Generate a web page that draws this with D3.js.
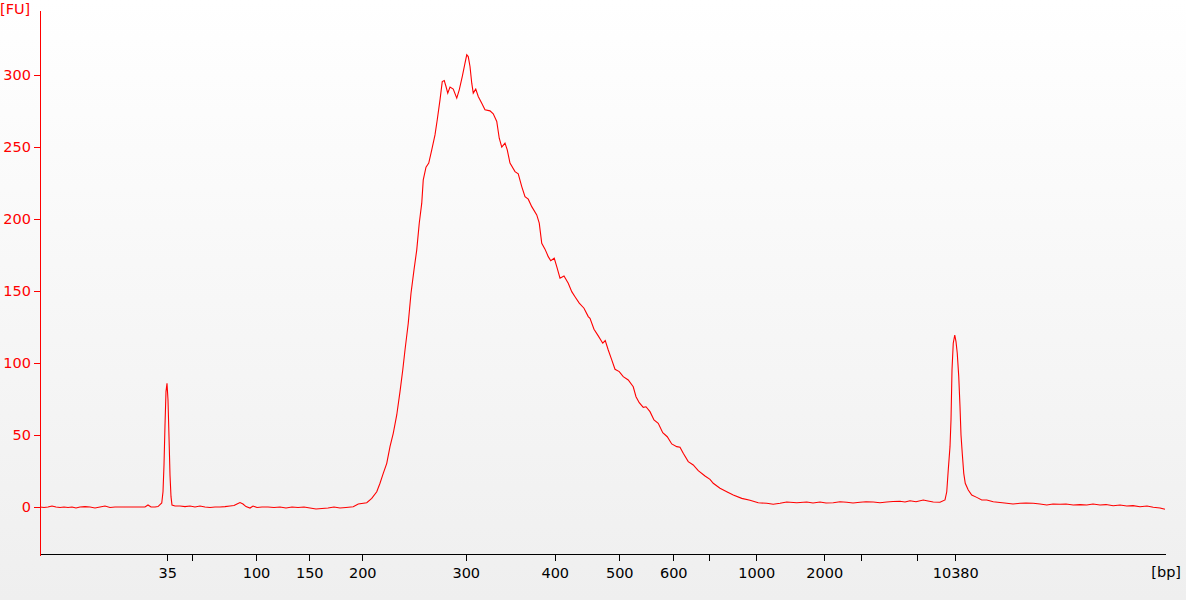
<!DOCTYPE html>
<html>
<head>
<meta charset="utf-8">
<script src="https://cdn.jsdelivr.net/npm/d3@7"></script>
<style>
  body { margin: 0; padding: 0; overflow: hidden; }
  text { font-family: "DejaVu Sans", Verdana, sans-serif; }
</style>
</head>
<body>
<div id="chart"></div>
<script>
// electropherogram trace: migration time (s) and fluorescence (FU)
var traceTime = [20.0, 20.16, 20.32, 20.48, 20.64, 20.8, 20.96, 21.12, 21.28, 21.44, 21.6, 21.8, 22.0, 22.2, 22.4, 22.6, 22.8, 23.0, 23.2, 23.4, 23.6, 23.8, 24.0, 24.2, 24.32, 24.44, 24.6, 24.72, 24.87, 24.92, 24.96, 25.0, 25.04, 25.08, 25.12, 25.16, 25.2, 25.24, 25.28, 25.4, 25.6, 25.8, 26.0, 26.2, 26.4, 26.6, 26.8, 27.0, 27.2, 27.4, 27.6, 27.76, 27.88, 28.0, 28.12, 28.24, 28.4, 28.52, 28.68, 28.88, 29.12, 29.36, 29.6, 29.84, 30.08, 30.32, 30.56, 30.8, 31.04, 31.28, 31.52, 31.76, 32.0, 32.24, 32.53, 32.73, 33.07, 33.27, 33.47, 33.6, 33.73, 33.87, 34.0, 34.13, 34.27, 34.4, 34.51, 34.6, 34.73, 34.84, 34.96, 35.07, 35.17, 35.27, 35.33, 35.44, 35.55, 35.67, 35.8, 35.89, 36.0, 36.09, 36.17, 36.24, 36.31, 36.4, 36.53, 36.67, 36.77, 36.89, 37.0, 37.07, 37.13, 37.2, 37.27, 37.33, 37.43, 37.53, 37.67, 37.8, 38.0, 38.13, 38.27, 38.37, 38.47, 38.6, 38.69, 38.8, 39.0, 39.13, 39.27, 39.4, 39.53, 39.67, 39.87, 39.97, 40.07, 40.2, 40.33, 40.43, 40.57, 40.67, 40.8, 40.96, 41.13, 41.27, 41.4, 41.57, 41.76, 41.93, 42.0, 42.16, 42.33, 42.51, 42.61, 42.73, 42.87, 43.0, 43.17, 43.33, 43.53, 43.73, 43.84, 43.97, 44.13, 44.24, 44.4, 44.56, 44.73, 44.91, 45.09, 45.27, 45.47, 45.6, 45.73, 45.93, 46.13, 46.33, 46.6, 46.8, 46.93, 47.2, 47.47, 47.73, 48.07, 48.4, 48.73, 49.07, 49.33, 49.6, 49.87, 50.27, 50.67, 50.92, 51.2, 51.44, 51.73, 52.0, 52.27, 52.52, 52.8, 53.04, 53.33, 53.6, 53.87, 54.12, 54.4, 54.6, 54.8, 55.04, 55.33, 55.52, 55.73, 56.0, 56.2, 56.27, 56.33, 56.4, 56.44, 56.48, 56.53, 56.59, 56.64, 56.69, 56.75, 56.8, 56.84, 56.89, 56.95, 57.01, 57.13, 57.27, 57.47, 57.67, 57.87, 58.13, 58.4, 58.67, 58.92, 59.2, 59.44, 59.73, 60.0, 60.27, 60.52, 60.8, 61.04, 61.33, 61.6, 61.87, 62.12, 62.4, 62.64, 62.93, 63.2, 63.47, 63.72, 64.0, 64.28, 64.53, 64.8, 65.0];
var traceFU = [0, -0.3, 0, 0.7, 0, -0.3, 0, -0.3, 0, -0.7, 0, 0.3, 0, -0.7, 0, 0.7, -0.3, 0, 0, 0, 0, 0, 0, 0, 1.4, 0, 0, 0.3, 2.8, 10.6, 29.2, 56.9, 80.1, 85.9, 74.3, 48.8, 22.2, 7.2, 1.4, 0.7, 0.7, 0.3, 0.7, 0, 0.7, 0, -0.3, 0, 0, 0.3, 0.7, 1.0, 2.1, 3.1, 2.1, 0.3, -0.7, 0.7, -0.3, 0, 0, -0.3, 0, -0.7, 0, -0.3, 0, -0.7, -1.4, -1.0, -0.7, 0, -0.7, -0.3, 0.2, 2.1, 3.0, 6.0, 10.6, 16.5, 23.4, 30.3, 41.9, 51.2, 63.9, 80.1, 95.1, 109.0, 127.6, 148.4, 164.6, 178.5, 197.0, 210.9, 227.1, 235.9, 238.7, 247.9, 258.3, 268.8, 282.6, 295.3, 296.0, 291.9, 287.3, 291.5, 290.1, 283.8, 289.6, 298.8, 308.1, 313.9, 312.7, 305.8, 294.2, 287.3, 290.1, 285.0, 280.3, 275.7, 275.0, 272.9, 267.6, 256.0, 249.8, 252.6, 247.9, 238.7, 232.8, 231.3, 222.4, 215.5, 213.7, 208.5, 202.8, 197.0, 183.1, 179.0, 173.8, 171.0, 172.7, 166.9, 158.8, 160.4, 155.3, 149.5, 146.0, 141.5, 138.0, 132.2, 131.0, 123.4, 118.8, 113.7, 115.5, 109.0, 102.1, 95.6, 94.0, 90.5, 88.2, 83.5, 76.6, 72.4, 69.2, 69.6, 66.2, 60.4, 58.1, 51.6, 48.8, 43.8, 41.9, 41.5, 37.3, 31.5, 29.2, 25.2, 21.5, 19.2, 16.5, 13.0, 10.6, 8.3, 6.0, 4.7, 3.0, 2.6, 1.9, 2.6, 3.5, 3.0, 3.5, 2.8, 3.5, 2.8, 3.0, 3.7, 3.3, 2.8, 3.3, 3.7, 3.5, 3.0, 3.5, 3.8, 4.0, 3.5, 4.4, 3.7, 4.9, 4.2, 3.5, 3.3, 4.9, 10.6, 25.7, 41.9, 60.4, 95.1, 113.7, 119.4, 114.8, 106.7, 90.5, 69.7, 50.0, 37.3, 23.4, 16.5, 11.8, 8.3, 6.7, 4.9, 4.9, 3.7, 3.1, 2.6, 2.1, 2.6, 2.8, 2.6, 2.1, 1.4, 2.1, 1.9, 2.1, 1.4, 1.7, 1.4, 2.1, 1.4, 1.7, 0.9, 1.4, 0.7, 1.0, 0.2, 0.7, -0.2, -0.7, -1.6];

// size ladder: migration time of each tick and its label (blank = unlabeled tick)
var ladderTime = [25.09, 26.09, 28.64, 30.77, 32.89, 37.03, 40.59, 43.17, 45.33, 46.75, 48.65, 51.37, 52.83, 55.09, 56.61];
var ladderLabel = ["35", "", "100", "150", "200", "300", "400", "500", "600", "", "1000", "2000", "", "", "10380"];

// fluorescence ticks
var fuTicks = [0, 50, 100, 150, 200, 250, 300];

var svgWidth = 1186;
var svgHeight = 600;
var fontSize = 14.5;

var svg = d3.select("#chart")
    .append("svg")
    .attr("width", svgWidth)
    .attr("height", svgHeight);

// background fades from white to light grey
var grad = svg.append("defs").append("linearGradient")
    .attr("id", "bg")
    .attr("x1", 0).attr("y1", 0)
    .attr("x2", 0).attr("y2", 1);
grad.append("stop").attr("offset", "0%").attr("stop-color", "#ffffff");
grad.append("stop").attr("offset", "100%").attr("stop-color", "#efefef");

svg.append("rect")
    .attr("width", svgWidth)
    .attr("height", svgHeight)
    .attr("fill", "url(#bg)");

// scales
var xScale = d3.scaleLinear()
    .domain([20, 65])
    .range([40, 1165]);

var yScale = d3.scaleLinear()
    .domain([-33.3, 345])
    .range([555, 10]);

// axes
var xAxis = d3.axisBottom(xScale)
    .tickValues(ladderTime)
    .tickFormat((d, i) => ladderLabel[i])
    .tickSize(7)
    .tickSizeOuter(0)
    .tickPadding(7);

var yAxis = d3.axisLeft(yScale)
    .tickValues(fuTicks)
    .tickSize(6)
    .tickSizeOuter(0)
    .tickPadding(3);

var xg = svg.append("g")
    .attr("transform", "translate(0, 554)")
    .call(xAxis);
xg.selectAll("path, line").attr("stroke", "#000").attr("shape-rendering", "crispEdges");
xg.selectAll("text").attr("font-size", fontSize).attr("fill", "#000")
    .style("font-family", "'DejaVu Sans', Verdana, sans-serif");

var yg = svg.append("g")
    .attr("transform", "translate(40, 0)")
    .call(yAxis);
yg.selectAll("path, line").attr("stroke", "#ff0000").attr("shape-rendering", "crispEdges");
yg.selectAll("text").attr("font-size", fontSize).attr("fill", "#ff0000")
    .style("font-family", "'DejaVu Sans', Verdana, sans-serif");

// unit labels
svg.append("text")
    .attr("x", 0)
    .attr("y", 14)
    .attr("font-size", fontSize)
    .attr("fill", "#ff0000")
    .text("[FU]");

svg.append("text")
    .attr("x", 1181)
    .attr("y", 577)
    .attr("text-anchor", "end")
    .attr("font-size", fontSize)
    .attr("fill", "#000")
    .text("[bp]");

// the trace
var line = d3.line()
    .x((d, i) => xScale(traceTime[i]))
    .y(d => yScale(d));

svg.append("path")
    .datum(traceFU)
    .attr("d", line)
    .attr("fill", "none")
    .attr("stroke", "#ff0000")
    .attr("stroke-width", 1.1);
</script>
</body>
</html>
